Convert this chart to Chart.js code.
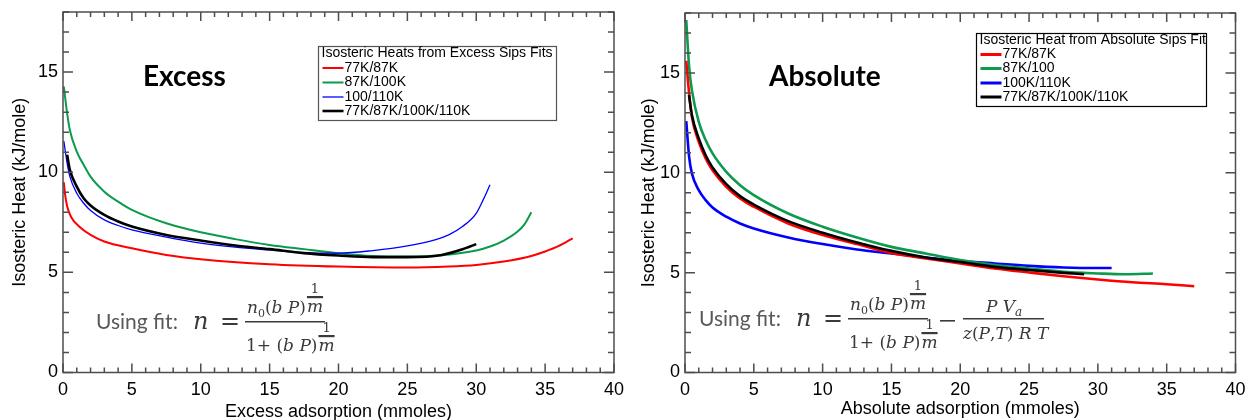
<!DOCTYPE html>
<html>
<head>
<meta charset="utf-8">
<script src="https://cdn.jsdelivr.net/npm/chart.js@4"></script>
<style>
  html, body { margin: 0; padding: 0; background: #fff; overflow: hidden; }
  #wrap { position: relative; width: 1248px; height: 420px; }
  canvas { position: absolute; top: 0; }
  #excess { left: 0; }
  #absolute { left: 624px; }
</style>
</head>
<body>
<div id="wrap">
  <canvas id="excess" width="624" height="420"></canvas>
  <canvas id="absolute" width="624" height="420"></canvas>
</div>
<script>
'use strict';

// tick labels shared by both panels
const xTicks = [0, 5, 10, 15, 20, 25, 30, 35, 40];
const yTicks = [0, 5, 10, 15];

// Excess panel
const exRedX   = [0.06, 0.15, 0.3, 0.6, 1.17, 2, 3, 5, 7.5, 10, 15, 20, 25, 28, 30, 32, 34, 35, 36, 37];
const exRedY   = [9.5, 8.9, 8.3, 7.75, 7.29, 6.87, 6.54, 6.2, 5.87, 5.66, 5.41, 5.29, 5.24, 5.29, 5.37, 5.54, 5.82, 6.04, 6.32, 6.7];
const exGreenX = [0.06, 0.3, 0.5, 1, 1.5, 2, 3, 4, 5, 7.5, 10, 12.5, 15, 17.5, 20, 22.5, 25, 27.5, 30, 31, 32, 33, 33.5, 34];
const exGreenY = [14.28, 12.94, 12.1, 11.03, 10.37, 9.78, 9.03, 8.53, 8.12, 7.45, 7.0, 6.66, 6.37, 6.16, 5.96, 5.82, 5.79, 5.86, 6.09, 6.29, 6.59, 7.04, 7.4, 8.0];
const exBlueX  = [0.06, 0.3, 0.5, 1, 1.5, 2, 3, 4, 5, 7.5, 10, 12.5, 15, 17.5, 20, 22.5, 25, 27, 28, 29, 30, 30.5, 31];
const exBlueY  = [11.56, 10.45, 9.78, 8.95, 8.45, 8.09, 7.62, 7.34, 7.12, 6.76, 6.46, 6.26, 6.12, 5.99, 5.96, 6.09, 6.32, 6.62, 6.87, 7.29, 7.95, 8.62, 9.37];
const exBlackX = [0.3, 0.5, 1, 1.5, 2, 3, 4, 5, 7.5, 10, 12.5, 15, 17.5, 20, 22.5, 25, 27.5, 29, 30];
const exBlackY = [10.87, 10.12, 9.28, 8.7, 8.34, 7.87, 7.54, 7.29, 6.87, 6.59, 6.34, 6.16, 5.96, 5.84, 5.76, 5.76, 5.87, 6.15, 6.41];

// Absolute panel
const abRedX   = [0.09, 0.3, 0.5, 1, 1.5, 2, 3, 4, 5, 7.5, 10, 12.5, 15, 17.5, 20, 22.5, 25, 27.5, 30, 32.5, 35, 37];
const abRedY   = [15.6, 13.97, 12.8, 11.55, 10.72, 10.13, 9.3, 8.71, 8.3, 7.46, 6.88, 6.43, 5.99, 5.71, 5.46, 5.21, 5.01, 4.82, 4.66, 4.52, 4.42, 4.32];
const abGreenX = [0.09, 0.3, 0.5, 1, 1.5, 2, 3, 4, 5, 7.5, 10, 12.5, 15, 17.5, 20, 22.5, 25, 27.5, 30, 32, 34];
const abGreenY = [17.65, 15.3, 14.14, 12.55, 11.64, 10.97, 10.05, 9.38, 8.88, 7.96, 7.3, 6.76, 6.29, 5.96, 5.63, 5.38, 5.21, 5.04, 4.96, 4.92, 4.96];
const abBlueX  = [0.09, 0.3, 0.5, 1, 1.5, 2, 3, 4, 5, 7.5, 10, 12.5, 15, 17.5, 20, 22.5, 25, 27.5, 30, 31];
const abBlueY  = [12.59, 10.8, 9.97, 9.13, 8.63, 8.26, 7.8, 7.46, 7.21, 6.76, 6.43, 6.16, 5.96, 5.76, 5.59, 5.46, 5.34, 5.26, 5.23, 5.23];
const abBlackX = [0.29, 0.5, 1, 1.5, 2, 3, 4, 5, 7.5, 10, 12.5, 15, 17.5, 20, 22.5, 25, 27.5, 29];
const abBlackY = [13.89, 12.89, 11.72, 10.88, 10.27, 9.43, 8.83, 8.41, 7.58, 7.0, 6.51, 6.09, 5.76, 5.53, 5.29, 5.13, 4.99, 4.92];

const RED = '#ff0000', GREEN = '#0b9a4e', BLUE = '#0000ff', BLACK = '#000000';
const AXIS = '#4d4d4d';
const SANS = '"Liberation Sans", Arial, sans-serif';
const SERIF = '"DejaVu Serif", serif';

function series(label, xs, ys, color, width, order) {
  return {
    label, borderColor: color, borderWidth: width, order,
    data: xs.map((x, i) => ({ x, y: ys[i] })),
    showLine: true, pointRadius: 0, fill: false, cubicInterpolationMode: 'monotone'
  };
}

// inward ticks on all four sides + frame
const framePlugin = {
  id: 'frame',
  afterDatasetsDraw(chart) {
    const { ctx, chartArea: a, scales: { x, y } } = chart;
    ctx.save();
    ctx.strokeStyle = AXIS;
    ctx.lineWidth = 1.5;
    ctx.beginPath();
    for (let v = x.min; v <= x.max; v++) {
      const px = x.getPixelForValue(v), len = v % 5 ? 5 : 9;
      ctx.moveTo(px, a.bottom); ctx.lineTo(px, a.bottom - len);
      ctx.moveTo(px, a.top); ctx.lineTo(px, a.top + len);
    }
    for (let v = y.min; v <= y.max; v++) {
      const py = y.getPixelForValue(v), len = v % 5 ? 6 : 10;
      ctx.moveTo(a.left, py); ctx.lineTo(a.left + len, py);
      ctx.moveTo(a.right, py); ctx.lineTo(a.right - len, py);
    }
    ctx.stroke();
    ctx.strokeRect(a.left, a.top, a.right - a.left, a.bottom - a.top);
    ctx.restore();
  }
};

// boxed legend with a title line
const boxLegend = {
  id: 'boxLegend',
  afterDraw(chart, args, o) {
    const ctx = chart.ctx;
    ctx.save();
    ctx.fillStyle = '#fff';
    ctx.fillRect(o.x, o.y, o.w, o.h);
    ctx.strokeStyle = o.border;
    ctx.lineWidth = 1.2;
    ctx.strokeRect(o.x, o.y, o.w, o.h);
    ctx.font = '14px ' + SANS;
    ctx.textBaseline = 'middle';
    ctx.fillStyle = '#000';
    ctx.fillText(o.title, o.x + 3, o.titleY);
    chart.data.datasets.forEach((d, i) => {
      const ry = o.rows[i];
      ctx.strokeStyle = d.borderColor;
      ctx.lineWidth = o.sample || d.borderWidth;
      ctx.beginPath();
      ctx.moveTo(o.x + 4, ry); ctx.lineTo(o.x + 25, ry);
      ctx.stroke();
      ctx.fillText(d.label, o.x + 26, ry);
    });
    ctx.restore();
  }
};

function run(ctx, x, y, parts) {
  for (const [t, f, dy] of parts) {
    ctx.font = f;
    ctx.fillText(t, x, y + (dy || 0));
    x += ctx.measureText(t).width;
  }
  return x;
}

function expo(ctx, x, base) {
  // "1 over m" exponent hanging after a closing paren
  ctx.font = 'italic 17px ' + SERIF;
  const wm = ctx.measureText('m').width;
  ctx.fillText('m', x, base);
  ctx.fillRect(x, base - 16, wm, 2.2);
  ctx.font = '13px ' + SERIF;
  ctx.textAlign = 'center';
  ctx.fillText('1', x + wm / 2, base - 19);
  ctx.textAlign = 'left';
}

const IT = 'italic 17px ' + SERIF, RM = '17px ' + SERIF, SUB = '11px ' + SERIF;

// panel label and fitted-equation annotation
const notes = {
  id: 'notes',
  afterDraw(chart, args, o) {
    const ctx = chart.ctx;
    ctx.save();
    ctx.textBaseline = 'alphabetic';
    ctx.fillStyle = '#000';
    ctx.font = 'bold 28px Lato, sans-serif';
    ctx.fillText(o.label, o.labelX, 86);

    const ox = o.fx, b = o.fy;
    ctx.fillStyle = '#595959';
    ctx.font = '21px Lato, sans-serif';
    ctx.fillText('Using fit:', ox, b);
    ctx.fillStyle = '#3a3a3a';
    ctx.font = 'italic 24px ' + SERIF;
    ctx.fillText('n', ox + 97, b);
    ctx.font = '24px ' + SERIF;
    ctx.fillText('=', ox + 124, b);
    ctx.fillRect(ox + 149, b - 8, 80, 1.5);
    let e = run(ctx, ox + 151, b - 16, [['n', IT], ['0', SUB, 4], ['(', RM], ['b', IT], [' ', RM], ['P', IT], [')', RM]]);
    expo(ctx, e + 1, b - 17);
    e = run(ctx, ox + 150, b + 22, [['1+ (', RM], ['b', IT], [' ', RM], ['P', IT], [')', RM]]);
    expo(ctx, e + 1, b + 22);

    if (o.correction) {
      ctx.fillRect(ox + 241, b - 6, 15, 1.6);
      ctx.fillRect(ox + 264, b - 8, 81, 1.5);
      run(ctx, ox + 287, b - 14, [['P', IT], [' ', RM], ['V', IT], ['a', 'italic 12px ' + SERIF, 4]]);
      run(ctx, ox + 264, b + 13, [['z', IT], ['(', RM], ['P', IT], [',', RM], ['T', IT], [') ', RM], ['R', IT], [' ', RM], ['T', IT]]);
    }
    ctx.restore();
  }
};

function makeChart(id, datasets, p) {
  return new Chart(document.getElementById(id), {
    type: 'scatter',
    data: { datasets },
    plugins: [framePlugin, boxLegend, notes],
    options: {
      responsive: false,
      animation: false,
      devicePixelRatio: 1,
      layout: { padding: { left: 0, right: p.padRight, top: p.padTop, bottom: 0 } },
      plugins: {
        legend: { display: false },
        tooltip: { enabled: false },
        boxLegend: p.legend,
        notes: p.notes
      },
      scales: {
        x: {
          type: 'linear', min: 0, max: 40,
          grid: { display: false, drawTicks: false },
          border: { display: false },
          afterBuildTicks: (s) => { s.ticks = xTicks.map((v) => ({ value: v })); },
          afterFit: (s) => { s.height = 420 - p.bottom; s.paddingLeft = 0; s.paddingRight = 0; },
          ticks: { color: '#000', padding: 7, maxRotation: 0, autoSkip: false, font: { family: SANS, size: 18 } },
          title: { display: true, text: p.xTitle, color: '#000', font: { family: SANS, size: 18, lineHeight: 1 },
                   padding: { top: 0, bottom: p.xTitlePad } }
        },
        y: {
          type: 'linear', min: 0, max: 18,
          grid: { display: false, drawTicks: false },
          border: { display: false },
          afterBuildTicks: (s) => { s.ticks = yTicks.map((v) => ({ value: v })); },
          afterFit: (s) => { s.width = p.left; s.paddingTop = 0; s.paddingBottom = 0; },
          ticks: { color: '#000', padding: 5, font: { family: SANS, size: 18 } },
          title: { display: true, text: 'Isosteric Heat (kJ/mole)', color: '#000', font: { family: SANS, size: 18, lineHeight: 1 },
                   padding: { top: p.yTitlePad, bottom: 0 } }
        }
      }
    }
  });
}

makeChart('excess', [
  series('77K/87K', exRedX, exRedY, RED, 2, 3),
  series('87K/100K', exGreenX, exGreenY, GREEN, 2, 2),
  series('100/110K', exBlueX, exBlueY, BLUE, 1.3, 1),
  series('77K/87K/100K/110K', exBlackX, exBlackY, BLACK, 2.6, 0)
], {
  left: 63, padRight: 10, padTop: 12, bottom: 372.5, xTitlePad: -1, yTitlePad: 11,
  xTitle: 'Excess adsorption (mmoles)',
  legend: { x: 318.5, y: 46.5, w: 238, h: 74, border: '#555', title: 'Isosteric Heats from Excess Sips Fits',
            titleY: 53, rows: [68, 82.5, 97, 111] },
  notes: { label: 'Excess', labelX: 143, fx: 96, fy: 329, correction: false }
});

makeChart('absolute', [
  series('77K/87K', abRedX, abRedY, RED, 2.6, 1),
  series('87K/100', abGreenX, abGreenY, GREEN, 2.6, 2),
  series('100K/110K', abBlueX, abBlueY, BLUE, 2.6, 3),
  series('77K/87K/100K/110K', abBlackX, abBlackY, BLACK, 2.6, 0)
], {
  left: 61, padRight: 12.5, padTop: 13, bottom: 372.5, xTitlePad: 2, yTitlePad: 16.5,
  xTitle: 'Absolute adsorption (mmoles)',
  legend: { x: 352.5, y: 33.5, w: 230, h: 73, border: '#000', sample: 3, title: 'Isosteric Heat from Absolute Sips Fit',
            titleY: 40, rows: [54.5, 68.5, 83, 97] },
  notes: { label: 'Absolute', labelX: 145, fx: 75, fy: 326, correction: true }
});
</script>
</body>
</html>
